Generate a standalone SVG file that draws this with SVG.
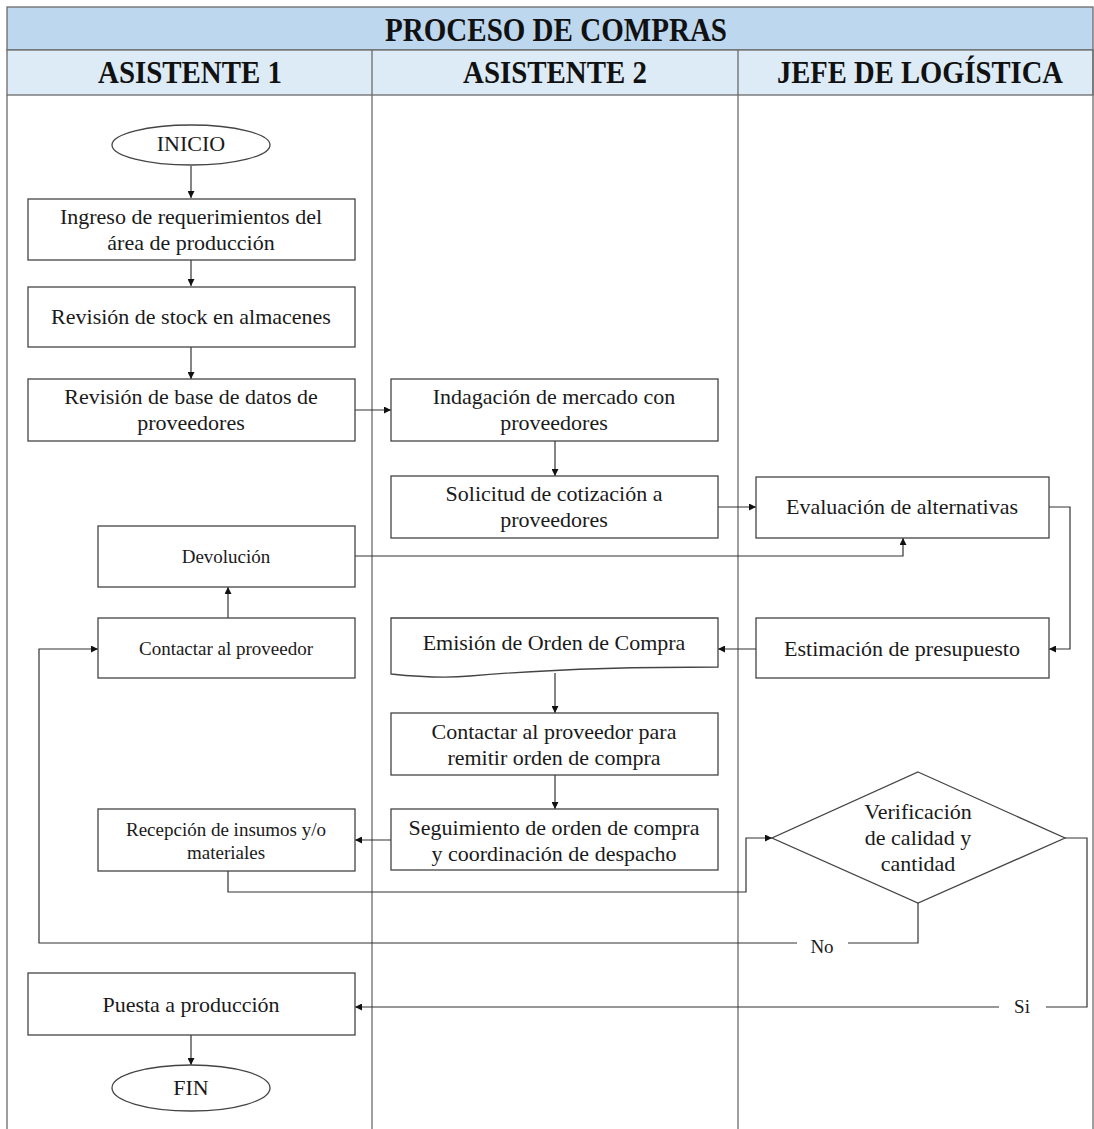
<svg xmlns="http://www.w3.org/2000/svg" width="1094" height="1129" viewBox="0 0 1094 1129">
<style>
.lane{fill:none;stroke:#6b6b6b;stroke-width:1.3}
.box{fill:#fff;stroke:#444;stroke-width:1.3}
.t{font-family:"Liberation Serif","Times New Roman",serif;font-size:22px;fill:#1a1a1a;text-anchor:middle}
.s{font-size:19px}
.h{font-family:"Liberation Serif","Times New Roman",serif;font-weight:bold;fill:#111;text-anchor:middle}
.c{fill:none;stroke:#333;stroke-width:1.2}
</style>
<defs>
<marker id="ar" viewBox="0 0 10 10" refX="10" refY="5" markerWidth="7" markerHeight="7" orient="auto" markerUnits="userSpaceOnUse">
<path d="M0,0 L10,5 L0,10 z" fill="#111"/>
</marker>
</defs>
<rect width="1094" height="1129" fill="#fff"/>
<g id="header">
<rect x="7" y="7" width="1086" height="43" fill="#bdd7ee" stroke="#6b6b6b" stroke-width="1.3"/>
<rect x="7" y="50" width="1086" height="45" fill="#ddebf7" stroke="#6b6b6b" stroke-width="1.3"/>
<text class="h" x="556" y="41" font-size="33" textLength="342" lengthAdjust="spacingAndGlyphs">PROCESO DE COMPRAS</text>
<text class="h" x="190" y="83" font-size="31" textLength="184" lengthAdjust="spacingAndGlyphs">ASISTENTE 1</text>
<text class="h" x="555" y="83" font-size="31" textLength="184" lengthAdjust="spacingAndGlyphs">ASISTENTE 2</text>
<text class="h" x="920" y="83" font-size="31" textLength="286" lengthAdjust="spacingAndGlyphs">JEFE DE LOGÍSTICA</text>
</g>
<g id="lanes">
<line class="lane" x1="7" y1="95" x2="7" y2="1129"/>
<line class="lane" x1="372" y1="50" x2="372" y2="1129"/>
<line class="lane" x1="738" y1="50" x2="738" y2="1129"/>
<line class="lane" x1="1093" y1="50" x2="1093" y2="1129"/>
</g>
<g id="connectors">
<line class="c" x1="191" y1="166" x2="191" y2="198" marker-end="url(#ar)"/>
<line class="c" x1="191" y1="246" x2="191" y2="286" marker-end="url(#ar)"/>
<line class="c" x1="191" y1="347" x2="191" y2="379" marker-end="url(#ar)"/>
<line class="c" x1="355" y1="410" x2="391" y2="410" marker-end="url(#ar)"/>
<line class="c" x1="555" y1="441" x2="555" y2="476" marker-end="url(#ar)"/>
<line class="c" x1="718" y1="507" x2="756" y2="507" marker-end="url(#ar)"/>
<polyline class="c" points="355,556 903,556 903,538" marker-end="url(#ar)"/>
<polyline class="c" points="1049,507 1070,507 1070,649 1049,649" marker-end="url(#ar)"/>
<line class="c" x1="756" y1="649" x2="718" y2="649" marker-end="url(#ar)"/>
<line class="c" x1="228" y1="618" x2="228" y2="587" marker-end="url(#ar)"/>
<line class="c" x1="555" y1="673" x2="555" y2="713" marker-end="url(#ar)"/>
<line class="c" x1="555" y1="775" x2="555" y2="809" marker-end="url(#ar)"/>
<line class="c" x1="391" y1="840" x2="355" y2="840" marker-end="url(#ar)"/>
<polyline class="c" points="228,871 228,892 746,892 746,838 772,838" marker-end="url(#ar)"/>
<polyline class="c" points="918,903 918,943 848,943"/>
<polyline class="c" points="797,943 39,943 39,649 98,649" marker-end="url(#ar)"/>
<polyline class="c" points="1065,838 1087,838 1087,1007 1046,1007"/>
<line class="c" x1="999" y1="1007" x2="355" y2="1007" marker-end="url(#ar)"/>
<line class="c" x1="191" y1="1035" x2="191" y2="1065" marker-end="url(#ar)"/>
<text class="t s" x="822" y="953">No</text>
<text class="t s" x="1022" y="1013">Si</text>
</g>
<g id="inicio">
<ellipse class="box" cx="191" cy="145" rx="79" ry="20"/>
<text class="t" x="191" y="151">INICIO</text>
</g>
<g id="ingreso">
<rect class="box" x="28" y="199" width="327" height="61"/>
<text class="t" x="191" y="224">Ingreso de requerimientos del</text>
<text class="t" x="191" y="250">área de producción</text>
</g>
<g id="stock">
<rect class="box" x="28" y="287" width="327" height="60"/>
<text class="t" x="191" y="324">Revisión de stock en almacenes</text>
</g>
<g id="basedatos">
<rect class="box" x="28" y="379" width="327" height="62"/>
<text class="t" x="191" y="404">Revisión de base de datos de</text>
<text class="t" x="191" y="430">proveedores</text>
</g>
<g id="indagacion">
<rect class="box" x="391" y="379" width="327" height="62"/>
<text class="t" x="554" y="404">Indagación de mercado con</text>
<text class="t" x="554" y="430">proveedores</text>
</g>
<g id="solicitud">
<rect class="box" x="391" y="476" width="327" height="62"/>
<text class="t" x="554" y="501">Solicitud de cotización a</text>
<text class="t" x="554" y="527">proveedores</text>
</g>
<g id="evaluacion">
<rect class="box" x="756" y="477" width="293" height="61"/>
<text class="t" x="902" y="514">Evaluación de alternativas</text>
</g>
<g id="devolucion">
<rect class="box" x="98" y="526" width="257" height="61"/>
<text class="t s" x="226" y="563">Devolución</text>
</g>
<g id="contactar">
<rect class="box" x="98" y="618" width="257" height="60"/>
<text class="t s" x="226" y="655">Contactar al proveedor</text>
</g>
<g id="estimacion">
<rect class="box" x="756" y="618" width="293" height="60"/>
<text class="t" x="902" y="656">Estimación de presupuesto</text>
</g>
<g id="emision">
<path class="box" d="M391,618 L718,618 L718,667 C640,667 560,668 470,676 C440,679 410,676 391,674 Z"/>
<text class="t" x="554" y="650">Emisión de Orden de Compra</text>
</g>
<g id="remitir">
<rect class="box" x="391" y="713" width="327" height="62"/>
<text class="t" x="554" y="739">Contactar al proveedor para</text>
<text class="t" x="554" y="765">remitir orden de compra</text>
</g>
<g id="seguimiento">
<rect class="box" x="391" y="809" width="327" height="61"/>
<text class="t" x="554" y="835">Seguimiento de orden de compra</text>
<text class="t" x="554" y="861">y coordinación de despacho</text>
</g>
<g id="recepcion">
<rect class="box" x="98" y="809" width="257" height="62"/>
<text class="t s" x="226" y="836">Recepción de insumos y/o</text>
<text class="t s" x="226" y="859">materiales</text>
</g>
<g id="verificacion">
<polygon class="box" points="918,772 1065,838 918,903 772,838"/>
<text class="t" x="918" y="819">Verificación</text>
<text class="t" x="918" y="845">de calidad y</text>
<text class="t" x="918" y="871">cantidad</text>
</g>
<g id="puesta">
<rect class="box" x="28" y="973" width="327" height="62"/>
<text class="t" x="191" y="1012">Puesta a producción</text>
</g>
<g id="fin">
<ellipse class="box" cx="191" cy="1088" rx="79" ry="23"/>
<text class="t" x="191" y="1095">FIN</text>
</g>
</svg>
